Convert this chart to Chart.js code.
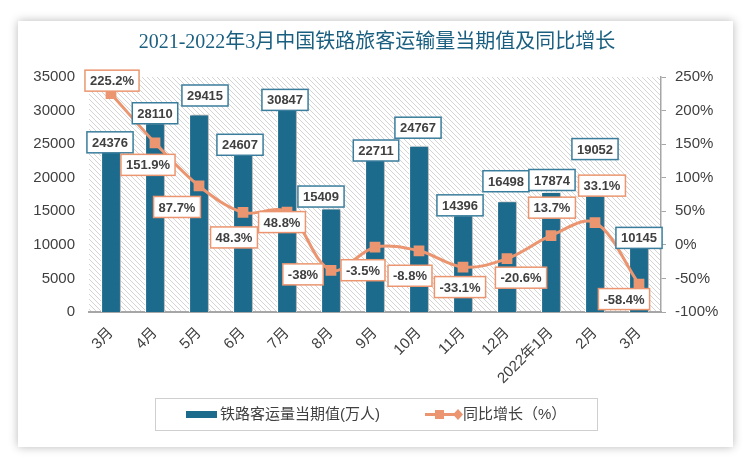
<!DOCTYPE html>
<html>
<head>
<meta charset="utf-8">
<script src="https://cdn.jsdelivr.net/npm/chart.js@4.4.1/dist/chart.umd.min.js"></script>
<style>
  html, body { margin: 0; padding: 0; background: #ffffff; }
  #wrap { position: relative; width: 750px; height: 461px; }
</style>
</head>
<body>
<div id="wrap"><canvas id="chart" width="750" height="461"></canvas></div>
<script>
// data
const months = ['3月', '4月', '5月', '6月', '7月', '8月', '9月', '10月', '11月', '12月', '2022年1月', '2月', '3月'];
const passengers = [24376, 28110, 29415, 24607, 30847, 15409, 22711, 24767, 14396, 16498, 17874, 19052, 10145];
const growth = [225.2, 151.9, 87.7, 48.3, 48.8, -38, -3.5, -8.8, -33.1, -20.6, 13.7, 33.1, -58.4];
const leftTicks = [0, 5000, 10000, 15000, 20000, 25000, 30000, 35000];
const rightTicks = [-100, -50, 0, 50, 100, 150, 200, 250];

// label placement (pixels, relative to bar top / point)
const barLabelOff = [[-1, -6], [0, -10], [6, -19], [-3, -2], [-2, -5], [-10, -12], [1, -9], [-1, -18], [-3, -10], [-1, -20], [1, -12], [0, -35], [0, -6]];
const lineLabelOff = [[1, -13], [-7, 22], [-22, 21], [-9, 25], [-5, 10], [-28, 4], [-12, 23], [-9, 25], [-3, 20], [14, 19], [1, -28], [7, -37], [-15, 15]];

const TEAL = '#1c6a8c';
const ORANGE = '#eb9670';
const TEXT = '#404040';
const FONT = '"Liberation Sans", "Noto Sans CJK SC", sans-serif';

function hatch() {
    const c = document.createElement('canvas');
    c.width = 5; c.height = 5;
    const g = c.getContext('2d');
    g.fillStyle = '#ffffff';
    g.fillRect(0, 0, 5, 5);
    g.strokeStyle = '#d4d4d4';
    g.lineWidth = 1;
    g.beginPath();
    g.moveTo(-1, -1); g.lineTo(6, 6);
    g.moveTo(-1, 4); g.lineTo(1, 6);
    g.moveTo(4, -1); g.lineTo(6, 1);
    g.stroke();
    return c;
}

const frame = {
    id: 'frame',
    beforeDraw(chart) {
        const ctx = chart.ctx;
        ctx.save();
        ctx.fillStyle = '#ffffff';
        ctx.fillRect(0, 0, chart.width, chart.height);
        ctx.shadowColor = 'rgba(0,0,0,0.28)';
        ctx.shadowBlur = 9;
        ctx.fillRect(18, 21, 715, 426);
        ctx.shadowColor = 'transparent';
        // title
        ctx.fillStyle = '#1b5f80';
        ctx.font = '20px "Liberation Serif", "Noto Sans CJK SC", serif';
        ctx.textAlign = 'center';
        ctx.textBaseline = 'middle';
        ctx.fillText('2021-2022年3月中国铁路旅客运输量当期值及同比增长', 377, 43);
        // plot background
        const a = chart.chartArea;
        ctx.fillStyle = ctx.createPattern(hatch(), 'repeat');
        ctx.fillRect(a.left, a.top, a.right - a.left, a.bottom - a.top);
        ctx.restore();
    },
    beforeDatasetDraw(chart, args) {
        if (args.meta.type === 'bar') {
            const ctx = chart.ctx;
            ctx.save();
            ctx.shadowColor = 'rgba(0,0,0,0.3)';
            ctx.shadowOffsetX = 2;
            ctx.shadowOffsetY = 0;
            ctx.shadowBlur = 2;
        }
    },
    afterDatasetDraw(chart, args) {
        if (args.meta.type === 'bar') chart.ctx.restore();
    },
    afterDraw(chart) {
        const ctx = chart.ctx;
        ctx.save();
        ctx.font = 'bold 13px ' + FONT;
        ctx.textAlign = 'center';
        ctx.textBaseline = 'middle';
        const box = (txt, x, y, border) => {
            const w = ctx.measureText(txt).width + 10;
            const h = 21;
            ctx.fillStyle = '#ffffff';
            ctx.fillRect(x - w / 2, y - h / 2, w, h);
            ctx.strokeStyle = border;
            ctx.lineWidth = 1.5;
            ctx.strokeRect(x - w / 2, y - h / 2, w, h);
            ctx.fillStyle = TEXT;
            ctx.fillText(txt, x, y + 1);
        };
        chart.getDatasetMeta(1).data.forEach((el, i) => {
            box(String(passengers[i]), el.x + barLabelOff[i][0], el.y + barLabelOff[i][1], '#3a7d9c');
        });
        chart.getDatasetMeta(0).data.forEach((el, i) => {
            box(growth[i] + '%', el.x + lineLabelOff[i][0], el.y + lineLabelOff[i][1], ORANGE);
        });

        // legend
        ctx.fillStyle = '#ffffff';
        ctx.fillRect(155, 398, 442, 32);
        ctx.strokeStyle = '#cfcfcf';
        ctx.lineWidth = 1;
        ctx.strokeRect(155.5, 398.5, 442, 32);
        ctx.fillStyle = TEAL;
        ctx.fillRect(186, 411, 31, 7);
        ctx.strokeStyle = ORANGE;
        ctx.lineWidth = 3;
        ctx.beginPath();
        ctx.moveTo(425, 414.5); ctx.lineTo(456, 414.5);
        ctx.stroke();
        ctx.fillStyle = ORANGE;
        ctx.fillRect(435, 410, 9, 9);
        ctx.beginPath();
        ctx.moveTo(458, 409); ctx.lineTo(463, 414.5); ctx.lineTo(458, 420); ctx.lineTo(453, 414.5);
        ctx.closePath();
        ctx.fill();
        ctx.fillStyle = TEXT;
        ctx.font = '15px ' + FONT;
        ctx.textAlign = 'left';
        ctx.fillText('铁路客运量当期值(万人)', 220, 415);
        ctx.fillText('同比增长（%）', 463, 415);
        ctx.restore();
    }
};

new Chart(document.getElementById('chart'), {
    data: {
        labels: months,
        datasets: [
            {
                type: 'line',
                label: '同比增长（%）',
                data: growth,
                yAxisID: 'y1',
                borderColor: ORANGE,
                backgroundColor: ORANGE,
                borderWidth: 3,
                tension: 0.35,
                pointStyle: 'rect',
                pointRadius: 5.5,
                pointBackgroundColor: ORANGE,
                pointBorderColor: ORANGE,
                order: 0
            },
            {
                type: 'bar',
                label: '铁路客运量当期值(万人)',
                data: passengers,
                yAxisID: 'y',
                backgroundColor: TEAL,
                borderColor: '#ffffff',
                borderWidth: 1,
                barPercentage: 0.45,
                categoryPercentage: 1,
                order: 1
            }
        ]
    },
    options: {
        responsive: false,
        animation: false,
        layout: { padding: { top: 77, left: 0, right: 0, bottom: 0 } },
        plugins: {
            legend: { display: false },
            tooltip: { enabled: false }
        },
        scales: {
            x: {
                offset: true,
                afterFit: s => { s.height = 149; },
                grid: { display: false },
                border: { display: true, color: '#a6a6a6', width: 2 },
                ticks: {
                    color: TEXT,
                    font: { family: FONT, size: 15 },
                    minRotation: 45,
                    maxRotation: 45,
                    autoSkip: false,
                    padding: 4
                }
            },
            y: {
                position: 'left',
                min: 0,
                max: 35000,
                afterFit: s => { s.width = 89; },
                afterBuildTicks: s => { s.ticks = leftTicks.map(v => ({ value: v })); },
                grid: { display: false, drawTicks: false },
                border: { display: false },
                ticks: { color: TEXT, font: { family: FONT, size: 15 }, padding: 14, callback: v => String(v) }
            },
            y1: {
                position: 'right',
                min: -100,
                max: 250,
                afterFit: s => { s.width = 89; },
                afterBuildTicks: s => { s.ticks = rightTicks.map(v => ({ value: v })); },
                grid: { drawOnChartArea: false, color: '#a6a6a6', tickLength: 5 },
                border: { display: true, color: '#a6a6a6', width: 1.5 },
                ticks: {
                    color: TEXT,
                    font: { family: FONT, size: 15 },
                    padding: 9,
                    callback: v => v + '%'
                }
            }
        }
    },
    plugins: [frame]
});
</script>
</body>
</html>
